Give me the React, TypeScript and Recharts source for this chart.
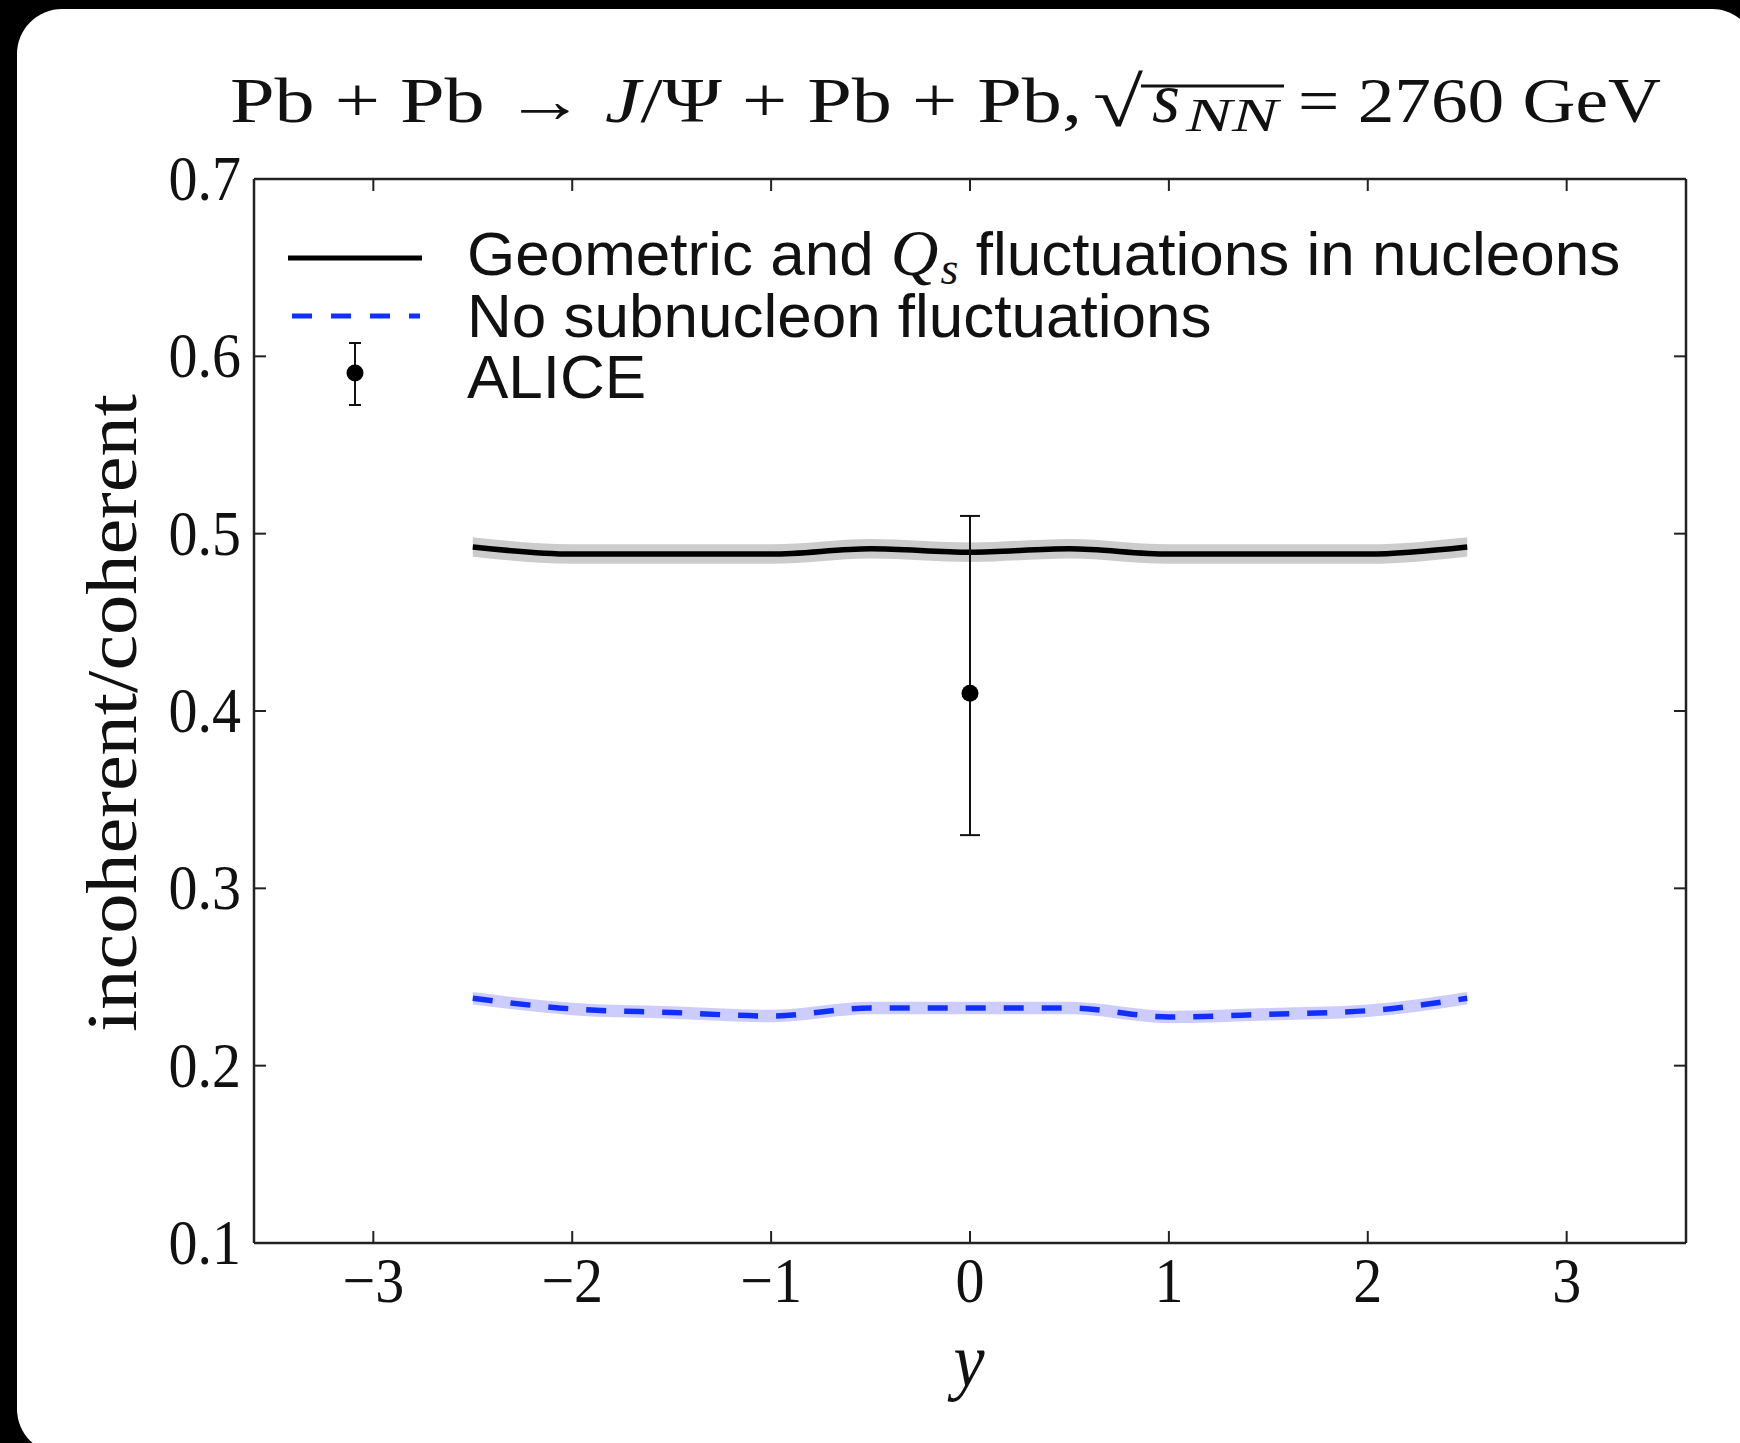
import React from "react";
import {
  ComposedChart,
  Line,
  Area,
  Scatter,
  ErrorBar,
  XAxis,
  YAxis,
} from "recharts";

// rapidity grid and the two model curves (incoherent / coherent ratio)
const rapidity = [-2.5, -2, -1.5, -1, -0.5, 0, 0.5, 1, 1.5, 2, 2.5];
const geoFluct = [0.4925, 0.4885, 0.4885, 0.4885, 0.4915, 0.4895, 0.4915, 0.4885, 0.4885, 0.4885, 0.4925];
const geoLow = [0.487, 0.483, 0.483, 0.483, 0.486, 0.484, 0.486, 0.483, 0.483, 0.483, 0.487];
const geoHigh = [0.498, 0.494, 0.494, 0.494, 0.497, 0.495, 0.497, 0.494, 0.494, 0.494, 0.498];
const noSub = [0.238, 0.232, 0.23, 0.228, 0.2325, 0.2325, 0.2325, 0.2275, 0.229, 0.231, 0.238];
const noSubLow = [0.2345, 0.2285, 0.2265, 0.2245, 0.229, 0.229, 0.229, 0.224, 0.2255, 0.2275, 0.2345];
const noSubHigh = [0.2415, 0.2355, 0.2335, 0.2315, 0.236, 0.236, 0.236, 0.231, 0.2325, 0.2345, 0.2415];

// ALICE measurement
const aliceRap = [0];
const aliceVal = [0.41];
const aliceErrLow = [0.08];
const aliceErrHigh = [0.1];

const xTicks = [-3, -2, -1, 0, 1, 2, 3];
const yTicks = [0.1, 0.2, 0.3, 0.4, 0.5, 0.6, 0.7];

const SERIF = '"Liberation Serif", "DejaVu Serif", serif';
const SANS = '"Liberation Sans", Arial, sans-serif';
const FRAME = "#222";
const BLUE = "#1030ff";

const rows = rapidity.map((r, i) => ({
  rap: r,
  geo: geoFluct[i],
  geoBand: [geoLow[i], geoHigh[i]],
  noSub: noSub[i],
  noSubBand: [noSubLow[i], noSubHigh[i]],
}));

const alice = aliceRap.map((r, i) => ({
  rap: r,
  val: aliceVal[i],
  err: [aliceErrLow[i], aliceErrHigh[i]],
}));

const fmtX = (v: number) => (v < 0 ? "\u2212" + Math.abs(v) : String(v));

function BottomTick(props: any) {
  const { x, y, payload } = props;
  return (
    <g>
      <line x1={x} x2={x} y1={y} y2={y - 12} stroke={FRAME} strokeWidth={2} />
      <g transform={`translate(${x},${y + 59}) scale(1,1.1)`}>
        <text x={0} y={0} textAnchor="middle" fontSize={58} fontFamily={SERIF} fill="#111">
          {fmtX(payload.value)}
        </text>
      </g>
    </g>
  );
}

function TopTick(props: any) {
  const { x, y } = props;
  return <line x1={x} x2={x} y1={y} y2={y + 12} stroke={FRAME} strokeWidth={2} />;
}

function LeftTick(props: any) {
  const { x, y, payload } = props;
  return (
    <g>
      <line x1={x} x2={x + 12} y1={y} y2={y} stroke={FRAME} strokeWidth={2} />
      <g transform={`translate(${x - 13},${y + 21}) scale(1,1.1)`}>
        <text x={0} y={0} textAnchor="end" fontSize={58} fontFamily={SERIF} fill="#111">
          {Number(payload.value).toFixed(1)}
        </text>
      </g>
    </g>
  );
}

function RightTick(props: any) {
  const { x, y } = props;
  return <line x1={x} x2={x - 12} y1={y} y2={y} stroke={FRAME} strokeWidth={2} />;
}

export default function App() {
  return (
    <div
      style={{
        position: "absolute",
        left: 0,
        top: 0,
        width: 1740,
        height: 1443,
        background: "#000",
        overflow: "hidden",
      }}
    >
      <div
        style={{
          position: "absolute",
          left: 17,
          top: 9,
          width: 1740,
          height: 1445,
          background: "#fff",
          borderRadius: 45,
        }}
      />
      <div style={{ position: "absolute", left: 0, top: 0 }}>
        <ComposedChart
          width={1740}
          height={1443}
          data={rows}
          margin={{ top: 149, right: 24, bottom: 140, left: 194 }}
        >
          <XAxis
            xAxisId="b"
            dataKey="rap"
            type="number"
            domain={[-3.6, 3.6]}
            ticks={xTicks}
            allowDataOverflow
            height={60}
            tickSize={0}
            tickMargin={0}
            tickLine={false}
            tick={<BottomTick />}
            axisLine={{ stroke: FRAME, strokeWidth: 2.5 }}
            interval={0}
          />
          <XAxis
            xAxisId="t"
            orientation="top"
            dataKey="rap"
            type="number"
            domain={[-3.6, 3.6]}
            ticks={xTicks}
            allowDataOverflow
            height={30}
            tickSize={0}
            tickMargin={0}
            tickLine={false}
            tick={<TopTick />}
            axisLine={{ stroke: FRAME, strokeWidth: 2.5 }}
            interval={0}
          />
          <YAxis
            yAxisId="l"
            type="number"
            domain={[0.1, 0.7]}
            ticks={yTicks}
            allowDataOverflow
            width={60}
            tickSize={0}
            tickMargin={0}
            tickLine={false}
            tick={<LeftTick />}
            axisLine={{ stroke: FRAME, strokeWidth: 2.5 }}
            interval={0}
          />
          <YAxis
            yAxisId="r"
            orientation="right"
            type="number"
            domain={[0.1, 0.7]}
            ticks={yTicks}
            allowDataOverflow
            width={30}
            tickSize={0}
            tickMargin={0}
            tickLine={false}
            tick={<RightTick />}
            axisLine={{ stroke: FRAME, strokeWidth: 2.5 }}
            interval={0}
          />
          <Area
            xAxisId="b"
            yAxisId="l"
            type="monotone"
            dataKey="geoBand"
            stroke="none"
            fill="#000"
            fillOpacity={0.2}
            isAnimationActive={false}
            activeDot={false}
          />
          <Area
            xAxisId="b"
            yAxisId="l"
            type="monotone"
            dataKey="noSubBand"
            stroke="none"
            fill="#0000ff"
            fillOpacity={0.2}
            isAnimationActive={false}
            activeDot={false}
          />
          <Line
            xAxisId="b"
            yAxisId="l"
            type="monotone"
            dataKey="geo"
            stroke="#000"
            strokeWidth={5.5}
            dot={false}
            activeDot={false}
            isAnimationActive={false}
          />
          <Line
            xAxisId="b"
            yAxisId="l"
            type="monotone"
            dataKey="noSub"
            stroke={BLUE}
            strokeWidth={5.5}
            strokeDasharray="20 18"
            dot={false}
            activeDot={false}
            isAnimationActive={false}
          />
          <Scatter
            xAxisId="b"
            yAxisId="l"
            data={alice}
            dataKey="val"
            fill="#000"
            isAnimationActive={false}
            shape={(p: any) => <circle cx={p.cx} cy={p.cy} r={8.5} fill="#000" />}
          >
            <ErrorBar dataKey="err" direction="y" width={10} strokeWidth={2} stroke="#111" />
          </Scatter>
        </ComposedChart>
      </div>
      <svg
        width={1740}
        height={1443}
        style={{ position: "absolute", left: 0, top: 0, pointerEvents: "none" }}
      >
        {/* title, laid out in pieces */}
        <text x={230} y={122} fontSize={64} fontFamily={SERIF} fill="#111" textLength={852} lengthAdjust="spacingAndGlyphs">
          {"Pb + Pb \u2192 "}
          <tspan fontStyle="italic">J</tspan>
          {"/\u03A8 + Pb + Pb,"}
        </text>
        <text x={1093} y={126} fontSize={70} fontFamily={SERIF} fill="#111" textLength={50} lengthAdjust="spacingAndGlyphs">
          {"\u221A"}
        </text>
        <line x1={1141} x2={1284} y1={86} y2={86} stroke="#111" strokeWidth={3} />
        <text x={1152} y={122} fontSize={72} fontStyle="italic" fontFamily={SERIF} fill="#111">
          s
        </text>
        <text x={1186} y={131} fontSize={46} fontStyle="italic" fontFamily={SERIF} fill="#111" textLength={92} lengthAdjust="spacingAndGlyphs">
          NN
        </text>
        <text x={1298} y={122} fontSize={64} fontFamily={SERIF} fill="#111" textLength={363} lengthAdjust="spacingAndGlyphs">
          {"= 2760 GeV"}
        </text>

        {/* axis labels */}
        <g transform="translate(969,1386) scale(1,1.1)">
          <text x={0} y={0} textAnchor="middle" fontSize={70} fontStyle="italic" fontFamily={SERIF} fill="#111">
            y
          </text>
        </g>
        <text
          transform="translate(136,713) rotate(-90)"
          x={0}
          y={0}
          textAnchor="middle"
          fontSize={72}
          fontFamily={SERIF}
          fill="#111"
          textLength={638}
          lengthAdjust="spacingAndGlyphs"
        >
          incoherent/coherent
        </text>

        {/* legend */}
        <line x1={288} x2={422} y1={258} y2={258} stroke="#000" strokeWidth={5} />
        <line x1={292} x2={420} y1={316} y2={316} stroke={BLUE} strokeWidth={5} strokeDasharray="20 19" />
        <line x1={355} x2={355} y1={343} y2={405} stroke="#111" strokeWidth={2} />
        <line x1={349} x2={361} y1={343} y2={343} stroke="#111" strokeWidth={2} />
        <line x1={349} x2={361} y1={405} y2={405} stroke="#111" strokeWidth={2} />
        <circle cx={355} cy={373} r={8.5} fill="#000" />
        <text x={467} y={275} fontSize={62} fontFamily={SANS} fill="#111">
          {"Geometric and "}
          <tspan fontFamily={SERIF} fontStyle="italic" fontSize={66}>Q</tspan>
          <tspan fontFamily={SERIF} fontStyle="italic" fontSize={46} dx={2} dy={9}>s</tspan>
          <tspan dy={-9}>{" fluctuations in nucleons"}</tspan>
        </text>
        <text x={467} y={337} fontSize={62} fontFamily={SANS} fill="#111">
          No subnucleon fluctuations
        </text>
        <text x={467} y={398} fontSize={62} fontFamily={SANS} fill="#111">
          ALICE
        </text>
      </svg>
    </div>
  );
}
